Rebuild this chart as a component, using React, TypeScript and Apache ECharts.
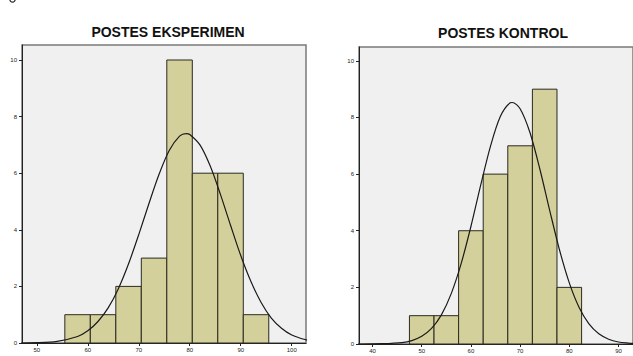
import React, { useEffect, useRef } from "react";
import * as echarts from "echarts";

// ---------- data ----------
const titles = ["POSTES EKSPERIMEN", "POSTES KONTROL"];
const binWidth = 5;

const expBinStart = [55.5, 60.5, 65.5, 70.5, 75.5, 80.5, 85.5, 90.5];
const expCounts = [1, 1, 2, 3, 10, 6, 6, 1];
const expCurveX = [46, 50, 54, 58, 60, 62, 64, 66, 68, 70, 72, 74, 76, 78, 79.3, 80, 82, 84, 86, 88, 90, 92, 94, 96, 98, 100, 102, 103];
const expCurveY = [0.0, 0.01, 0.06, 0.23, 0.43, 0.76, 1.24, 1.92, 2.8, 3.83, 4.93, 5.97, 6.81, 7.31, 7.4, 7.37, 7.0, 6.26, 5.26, 4.16, 3.09, 2.17, 1.43, 0.88, 0.52, 0.28, 0.15, 0.1];
const expXTicks = [50, 60, 70, 80, 90, 100];

const ctrlBinStart = [47.5, 52.5, 57.5, 62.5, 67.5, 72.5, 77.5];
const ctrlCounts = [1, 1, 4, 6, 7, 9, 2];
const ctrlCurveX = [37, 38, 42, 46, 48, 50, 52, 54, 56, 58, 60, 62, 64, 66, 68, 68.4, 70, 72, 74, 76, 78, 80, 82, 84, 86, 88, 90, 92, 93];
const ctrlCurveY = [0.0, 0.0, 0.01, 0.05, 0.12, 0.27, 0.55, 1.03, 1.78, 2.83, 4.15, 5.62, 7.0, 8.04, 8.52, 8.53, 8.31, 7.47, 6.19, 4.73, 3.33, 2.16, 1.29, 0.71, 0.36, 0.17, 0.07, 0.03, 0.02];
const ctrlXTicks = [40, 50, 60, 70, 80, 90];

const yTicks = [0, 2, 4, 6, 8, 10];

// ---------- styles ----------
const BAR_FILL = "#d4d09b";
const BAR_STROKE = "#2a2a22";
const PLOT_BG = "#f0f0f0";

export default function App() {
  const ref = useRef<HTMLDivElement>(null);

  useEffect(() => {
    if (!ref.current) return;
    const chart = echarts.init(ref.current, null, { renderer: "svg" });

    const renderBar = (params: any, api: any) => {
      const x0 = api.value(0);
      const x1 = api.value(1);
      const h = api.value(2);
      const p0 = api.coord([x0, h]);
      const p1 = api.coord([x1, 0]);
      return {
        type: "rect",
        shape: { x: p0[0], y: p0[1], width: p1[0] - p0[0], height: p1[1] - p0[1] },
        style: { fill: BAR_FILL, stroke: BAR_STROKE, lineWidth: 1 },
      };
    };

    const xAxis = (gridIndex: number, min: number, max: number, ticks: number[]) => ({
      type: "value",
      gridIndex,
      min,
      max,
      axisLine: { show: true, lineStyle: { color: "#222", width: 1 } },
      axisTick: { show: true, length: 3, lineStyle: { color: "#222" }, customValues: ticks },
      axisLabel: {
        customValues: ticks,
        fontSize: 6,
        color: "#222",
        margin: 4,
        fontFamily: "Liberation Sans",
      },
      splitLine: { show: false },
    });

    const yAxis = (gridIndex: number, max: number) => ({
      type: "value",
      gridIndex,
      min: 0,
      max,
      axisLine: { show: true, lineStyle: { color: "#222", width: 1 } },
      axisTick: { show: true, length: 3, lineStyle: { color: "#222" }, customValues: yTicks },
      axisLabel: {
        customValues: yTicks,
        fontSize: 6,
        color: "#222",
        margin: 5,
        fontFamily: "Liberation Sans",
      },
      splitLine: { show: false },
    });

    chart.setOption({
      animation: false,
      backgroundColor: "#ffffff",
      grid: [
        { left: 22, top: 45, width: 284, height: 298, show: true, backgroundColor: PLOT_BG, borderColor: "#7a7a7a", borderWidth: 1.5 },
        { left: 359, top: 47, width: 284, height: 297, show: true, backgroundColor: PLOT_BG, borderColor: "#7a7a7a", borderWidth: 1.5 },
      ],
      xAxis: [xAxis(0, 47.1, 102.8, expXTicks), xAxis(1, 37.25, 92.95, ctrlXTicks)],
      yAxis: [yAxis(0, 10.53), yAxis(1, 10.49)],
      graphic: [
        {
          type: "arc",
          shape: { cx: 12.5, cy: -0.5, r: 2.6, startAngle: 0, endAngle: Math.PI, clockwise: true },
          style: { stroke: "#222", lineWidth: 1.2, fill: "none" },
        },
        {
          type: "text",
          x: 168,
          y: 32,
          style: {
            text: titles[0],
            font: "bold 14px 'Liberation Sans'",
            fill: "#111",
            textAlign: "center",
            textVerticalAlign: "middle",
          },
        },
        {
          type: "text",
          x: 503,
          y: 33,
          style: {
            text: titles[1],
            font: "bold 14px 'Liberation Sans'",
            fill: "#111",
            textAlign: "center",
            textVerticalAlign: "middle",
          },
        },
      ],
      series: [
        {
          type: "custom",
          xAxisIndex: 0,
          yAxisIndex: 0,
          renderItem: renderBar,
          encode: { x: [0, 1], y: 2 },
          data: expBinStart.map((s, i) => [s, s + binWidth, expCounts[i]]),
          z: 2,
        },
        {
          type: "line",
          xAxisIndex: 0,
          yAxisIndex: 0,
          data: expCurveX.map((x, i) => [x, expCurveY[i]]),
          smooth: 0.3,
          showSymbol: false,
          lineStyle: { color: "#1a1a1a", width: 1.2 },
          z: 3,
        },
        {
          type: "custom",
          xAxisIndex: 1,
          yAxisIndex: 1,
          renderItem: renderBar,
          encode: { x: [0, 1], y: 2 },
          data: ctrlBinStart.map((s, i) => [s, s + binWidth, ctrlCounts[i]]),
          z: 2,
        },
        {
          type: "line",
          xAxisIndex: 1,
          yAxisIndex: 1,
          data: ctrlCurveX.map((x, i) => [x, ctrlCurveY[i]]),
          smooth: 0.3,
          showSymbol: false,
          lineStyle: { color: "#1a1a1a", width: 1.2 },
          z: 3,
        },
      ],
    });

    return () => chart.dispose();
  }, []);

  return (
    <div
      ref={ref}
      style={{ position: "fixed", left: 0, top: 0, width: 633, height: 356 }}
    />
  );
}
